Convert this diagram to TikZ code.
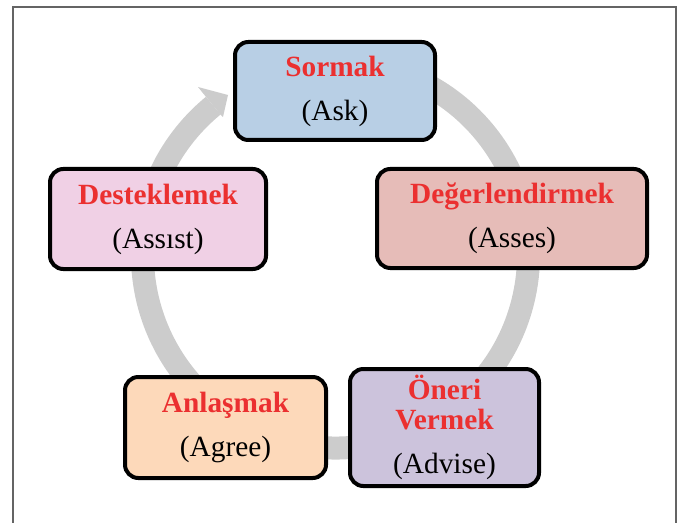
\documentclass[tikz,border=0pt]{standalone}
\usepackage{fontspec}
\setmainfont{Liberation Serif}
\definecolor{tred}{RGB}{235,48,48}
\definecolor{ring}{RGB}{204,204,204}
\definecolor{frame}{RGB}{100,100,100}
\definecolor{fask}{RGB}{184,207,229}
\definecolor{fasses}{RGB}{230,188,184}
\definecolor{fassist}{RGB}{240,208,229}
\definecolor{fagree}{RGB}{253,217,186}
\definecolor{fadvise}{RGB}{204,195,220}
\tikzset{
  stagebox/.style={draw=black, line width=3pt, rounded corners=10pt, inner sep=0pt,
    align=center, font=\fontsize{22}{22}\selectfont},
  ttl/.style={},
}
\newcommand{\ttlx}[1]{{\color{tred}\bfseries #1}}
\begin{document}
\begin{tikzpicture}[x=0.75pt,y=0.75pt]
\useasboundingbox (0,0) rectangle (678,522);
% frame
\draw[frame, line width=1pt] (13,-5) -- (13,515) -- (676,515) -- (676,-5);
% cycle ring
\coordinate (c) at (335.5,267);
\draw[ring, line width=17.25pt] (c) ++(75:144.75pt) arc[start angle=75, end angle=-230.7, radius=144.75pt];
\fill[ring] (198,435) -- (228,427) -- (223,405) -- (220.5,407.4) -- (205.9,425.2) -- cycle;
% boxes
\node[stagebox, fill=fask, minimum width=150pt, minimum height=73.5pt] (ask) at (335,431)
  {\ttlx{Sormak}\\[11pt](Ask)};
\node[stagebox, fill=fasses, minimum width=202.5pt, minimum height=74.25pt] (asses) at (512,303.5)
  {\ttlx{Değerlendirmek}\\[11pt](Asses)};
\node[stagebox, fill=fassist, minimum width=162pt, minimum height=75pt] (assist) at (158,303)
  {\ttlx{Desteklemek}\\[11pt](Assıst)};
\node[stagebox, fill=fagree, minimum width=150.75pt, minimum height=75.75pt] (agree) at (225.5,94.5)
  {\ttlx{Anlaşmak}\\[11pt](Agree)};
\node[stagebox, fill=fadvise, minimum width=141.75pt, minimum height=87.75pt] (advise) at (444.5,94.5)
  {\ttlx{Öneri}\\\ttlx{Vermek}\\[11pt](Advise)};
\end{tikzpicture}
\end{document}
